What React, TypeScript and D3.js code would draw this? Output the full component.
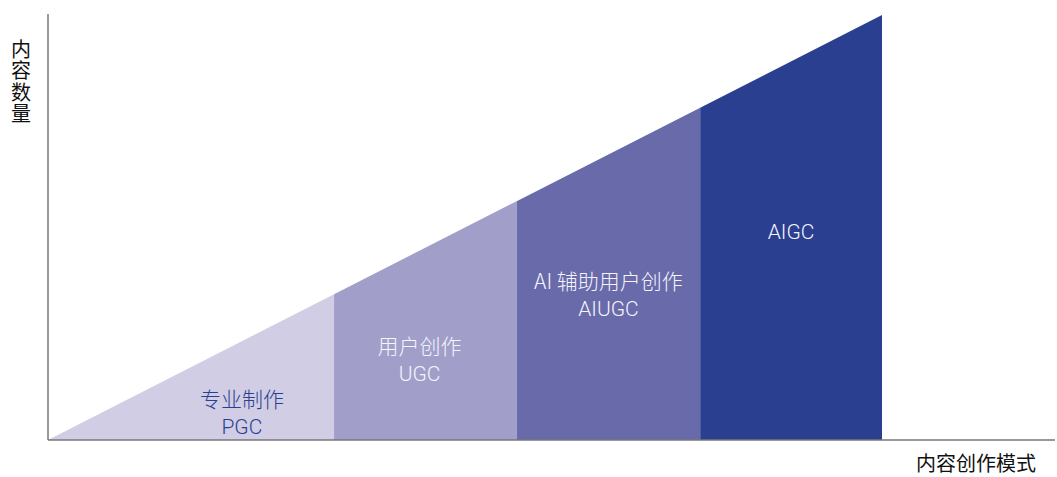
import { useEffect, useRef } from 'react';
import * as d3 from 'd3';

// stage boundaries along the creation-mode axis (0..100) and content amount (0..100)
const stageNames = ['专业制作', '用户创作', 'AI 辅助用户创作', 'AIGC'];
const stageCodes = ['PGC', 'UGC', 'AIUGC', ''];
const stageBreaks = [0, 34.3, 56.2, 78.2, 100];
const contentAtBreak = [0, 34.3, 56.2, 78.2, 100];
const stageColors = ['#d0cde5', '#a19fc9', '#686aaa', '#2b3f90'];
const labelColors = ['#2b3f90', '#f4f4fa', '#f4f4fa', '#f4f4fa'];

const yTitle = '内容数量';
const xTitle = '内容创作模式';

export default function App() {
  const svgRef = useRef<SVGSVGElement>(null);

  useEffect(() => {
    const width = 1057;
    const height = 477;
    const margin = { top: 15, left: 48, bottom: 440 };
    const font = '"Noto Sans CJK SC", "Noto Sans", sans-serif';
    const latinFont = 'Roboto, "Noto Sans", sans-serif';

    const x = d3.scaleLinear().domain([0, 100]).range([margin.left, 882]);
    const y = d3.scaleLinear().domain([0, 100]).range([margin.bottom, margin.top]);

    const svg = d3.select(svgRef.current);
    svg.selectAll('*').remove();
    svg.attr('width', width).attr('height', height);

    const area = d3
      .area<[number, number]>()
      .x(d => x(d[0]))
      .y0(y(0))
      .y1(d => y(d[1]));

    // Stage areas
    stageNames.forEach((_, i) => {
      const pts: [number, number][] = [
        [stageBreaks[i], contentAtBreak[i]],
        [stageBreaks[i + 1], contentAtBreak[i + 1]],
      ];
      svg
        .append('path')
        .attr('d', area(pts)!)
        .attr('fill', stageColors[i]);
    });

    // Labels
    const labelOffset = [6.1, -0.7, 0, 0];
    const labelTop = [400, 347, 282, 232];
    stageNames.forEach((name, i) => {
      const cx = x((stageBreaks[i] + stageBreaks[i + 1]) / 2 + labelOffset[i]);
      const isLatin = /^[A-Z]+$/.test(name);
      svg
        .append('text')
        .attr('x', cx)
        .attr('y', labelTop[i] + 7)
        .attr('text-anchor', 'middle')
        .attr('fill', labelColors[i])
        .style('font-family', isLatin ? latinFont : font)
        .style('font-size', '21px')
        .style('font-weight', 300)
        .text(name);
      if (stageCodes[i]) {
        svg
          .append('text')
          .attr('x', cx)
          .attr('y', labelTop[i] + 7 + 26.5)
          .attr('text-anchor', 'middle')
          .attr('fill', labelColors[i])
          .style('font-family', latinFont)
          .style('font-size', '21px')
          .style('font-weight', 300)
          .text(stageCodes[i]);
      }
    });

    // Axes
    svg
      .append('line')
      .attr('x1', margin.left)
      .attr('x2', margin.left)
      .attr('y1', 14)
      .attr('y2', margin.bottom)
      .attr('stroke', '#777')
      .attr('stroke-width', 1.5);
    svg
      .append('line')
      .attr('x1', margin.left)
      .attr('x2', 1055)
      .attr('y1', margin.bottom)
      .attr('y2', margin.bottom)
      .attr('stroke', '#777')
      .attr('stroke-width', 1.5);

    // Axis titles
    svg
      .append('text')
      .attr('x', 21)
      .attr('y', 39)
      .attr('text-anchor', 'start')
      .attr('fill', '#111')
      .style('writing-mode', 'vertical-rl')
      .style('letter-spacing', '1.5px')
      .style('font-family', font)
      .style('font-size', '20px')
      .style('font-weight', 400)
      .text(yTitle);
    svg
      .append('text')
      .attr('x', 1036)
      .attr('y', 466)
      .attr('text-anchor', 'end')
      .attr('dominant-baseline', 'middle')
      .attr('fill', '#111')
      .style('font-family', font)
      .style('font-size', '20px')
      .style('font-weight', 400)
      .text(xTitle);
  }, []);

  return (
    <div style={{ position: 'absolute', left: 0, top: 0 }}>
      <svg ref={svgRef} style={{ display: 'block' }}></svg>
    </div>
  );
}
